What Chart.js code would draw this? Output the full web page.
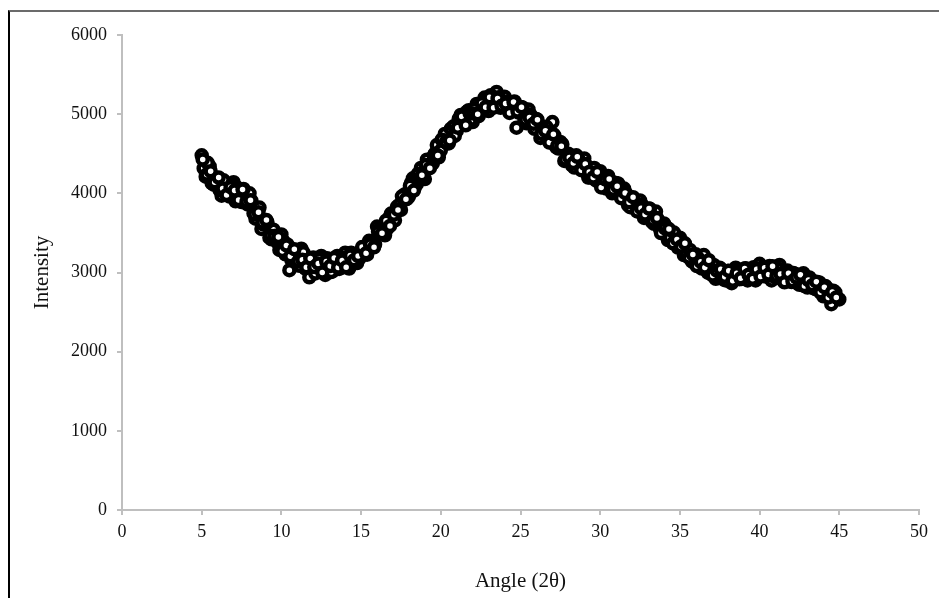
<!DOCTYPE html>
<html lang="en">
<head>
    <meta charset="UTF-8">
    <title>Intensity vs Angle</title>
    <script src="https://cdn.jsdelivr.net/npm/chart.js"></script>
    <style>
        body {
            margin: 0;
            background: #fff;
        }
        .wrap {
            position: relative;
            width: 939px;
            height: 598px;
        }
        .frame {
            position: absolute;
            left: 8px;
            top: 10px;
            right: 0;
            bottom: 0;
            border-left: 2px solid #000;
            border-top: 2px solid #6b6b6b;
            pointer-events: none;
        }
    </style>
</head>
<body>
    <div class="wrap">
        <canvas id="xrd" width="939" height="598"></canvas>
        <div class="frame"></div>
    </div>

    <script>
        // Angle (2 theta) readings, first pass of the scan
        const angles = [
            5.00, 5.25, 5.50, 5.75, 6.00, 6.25, 6.50, 6.75, 7.00, 7.25,
            7.50, 7.75, 8.00, 8.25, 8.50, 8.75, 9.00, 9.25, 9.50, 9.75,
            10.00, 10.25, 10.50, 10.75, 11.00, 11.25, 11.50, 11.75, 12.00, 12.25,
            12.50, 12.75, 13.00, 13.25, 13.50, 13.75, 14.00, 14.25, 14.50, 14.75,
            15.00, 15.25, 15.50, 15.75, 16.00, 16.25, 16.50, 16.75, 17.00, 17.25,
            17.50, 17.75, 18.00, 18.25, 18.50, 18.75, 19.00, 19.25, 19.50, 19.75,
            20.00, 20.25, 20.50, 20.75, 21.00, 21.25, 21.50, 21.75, 22.00, 22.25,
            22.50, 22.75, 23.00, 23.25, 23.50, 23.75, 24.00, 24.25, 24.50, 24.75,
            25.00, 25.25, 25.50, 25.75, 26.00, 26.25, 26.50, 26.75, 27.00, 27.25,
            27.50, 27.75, 28.00, 28.25, 28.50, 28.75, 29.00, 29.25, 29.50, 29.75,
            30.00, 30.25, 30.50, 30.75, 31.00, 31.25, 31.50, 31.75, 32.00, 32.25,
            32.50, 32.75, 33.00, 33.25, 33.50, 33.75, 34.00, 34.25, 34.50, 34.75,
            35.00, 35.25, 35.50, 35.75, 36.00, 36.25, 36.50, 36.75, 37.00, 37.25,
            37.50, 37.75, 38.00, 38.25, 38.50, 38.75, 39.00, 39.25, 39.50, 39.75,
            40.00, 40.25, 40.50, 40.75, 41.00, 41.25, 41.50, 41.75, 42.00, 42.25,
            42.50, 42.75, 43.00, 43.25, 43.50, 43.75, 44.00, 44.25, 44.50, 44.75,
            45.00
        ];

        const intensity = [
            4480, 4210, 4340, 4110, 4190, 3970, 4090, 3960, 4140, 4070,
            3890, 3960, 4000, 3750, 3780, 3550, 3650, 3440, 3540, 3380,
            3480, 3230, 3030, 3270, 3160, 3300, 3050, 2940, 3190, 3055,
            3210, 2970, 3120, 3020, 3210, 3060, 3250, 3050, 3210, 3120,
            3280, 3230, 3400, 3330, 3580, 3490, 3470, 3690, 3660, 3830,
            3790, 3990, 3960, 4190, 4120, 4320, 4180, 4410, 4380, 4610,
            4540, 4750, 4630, 4820, 4790, 4990, 4880, 5050, 4900, 5130,
            5030, 5210, 5040, 5210, 5280, 5080, 5220, 5080, 5140, 4830,
            5090, 4920, 5060, 4870, 4940, 4700, 4830, 4690, 4900, 4580,
            4650, 4410, 4500, 4350, 4480, 4320, 4440, 4200, 4310, 4160,
            4280, 4090, 4220, 4000, 4130, 4000, 4060, 3850, 3930, 3800,
            3910, 3690, 3780, 3640, 3770, 3550, 3620, 3410, 3510, 3370,
            3440, 3220, 3290, 3140, 3230, 3070, 3220, 3000, 3080, 2920,
            3060, 2910, 3020, 2865, 3060, 2915, 3010, 2900, 3050, 2900,
            3110, 2960, 3065, 2900, 3040, 3095, 2890, 3025, 2880, 2980,
            2845, 2990, 2810, 2905, 2790, 2875, 2700, 2800, 2600, 2750,
            2660
        ];

        // second pass, half a step later
        const anglesB = [
            5.125, 5.375, 5.625, 5.875, 6.125, 6.375, 6.625, 6.875, 7.125, 7.375,
            7.625, 7.875, 8.125, 8.375, 8.625, 8.875, 9.125, 9.375, 9.625, 9.875,
            10.125, 10.375, 10.625, 10.875, 11.125, 11.375, 11.625, 11.875, 12.125, 12.375,
            12.625, 12.875, 13.125, 13.375, 13.625, 13.875, 14.125, 14.375, 14.625, 14.875,
            15.125, 15.375, 15.625, 15.875, 16.125, 16.375, 16.625, 16.875, 17.125, 17.375,
            17.625, 17.875, 18.125, 18.375, 18.625, 18.875, 19.125, 19.375, 19.625, 19.875,
            20.125, 20.375, 20.625, 20.875, 21.125, 21.375, 21.625, 21.875, 22.125, 22.375,
            22.625, 22.875, 23.125, 23.375, 23.625, 23.875, 24.125, 24.375, 24.625, 24.875,
            25.125, 25.375, 25.625, 25.875, 26.125, 26.375, 26.625, 26.875, 27.125, 27.375,
            27.625, 27.875, 28.125, 28.375, 28.625, 28.875, 29.125, 29.375, 29.625, 29.875,
            30.125, 30.375, 30.625, 30.875, 31.125, 31.375, 31.625, 31.875, 32.125, 32.375,
            32.625, 32.875, 33.125, 33.375, 33.625, 33.875, 34.125, 34.375, 34.625, 34.875,
            35.125, 35.375, 35.625, 35.875, 36.125, 36.375, 36.625, 36.875, 37.125, 37.375,
            37.625, 37.875, 38.125, 38.375, 38.625, 38.875, 39.125, 39.375, 39.625, 39.875,
            40.125, 40.375, 40.625, 40.875, 41.125, 41.375, 41.625, 41.875, 42.125, 42.375,
            42.625, 42.875, 43.125, 43.375, 43.625, 43.875, 44.125, 44.375, 44.625, 44.875
        ];

        const intensityB = [
            4315, 4385, 4130, 4190, 4040, 4165, 4025, 4105, 3900, 4040,
            4055, 3860, 3905, 3680, 3820, 3605, 3635, 3420, 3465, 3285,
            3395, 3355, 3160, 3240, 3085, 3255, 3080, 3165, 2988, 3173,
            3070, 3180, 3005, 3145, 3045, 3185, 3110, 3250, 3120, 3175,
            3295, 3225, 3370, 3355, 3540, 3580, 3550, 3745, 3660, 3850,
            3945, 3930, 4130, 4080, 4240, 4195, 4425, 4355, 4500, 4455,
            4665, 4635, 4815, 4725, 4940, 4870, 5030, 4925, 5070, 4975,
            5155, 5085, 5240, 5095, 5215, 5120, 5160, 5030, 5160, 5020,
            5085, 4885, 4995, 4815, 4880, 4760, 4840, 4645, 4730, 4565,
            4620, 4430, 4475, 4325, 4435, 4315, 4350, 4200, 4320, 4150,
            4220, 4060, 4155, 4030, 4125, 3975, 4000, 3825, 3895, 3775,
            3855, 3735, 3805, 3615, 3665, 3505, 3575, 3435, 3505, 3315,
            3365, 3245, 3285, 3125, 3185, 3050, 3125, 2990, 3095, 2970,
            3035, 2900, 2993, 2928, 3023, 2918, 3055, 2945, 3065, 2940,
            3060, 2948, 3083, 2950, 3053, 2918, 3013, 2908, 2995, 2863,
            2958, 2845, 2938, 2803, 2878, 2743, 2830, 2700, 2770, 2680
        ];

        // third pass, a quarter step later
        const anglesC = [
            5.0625, 5.3125, 5.5625, 5.8125, 6.0625, 6.3125, 6.5625, 6.8125, 7.0625, 7.3125,
            7.5625, 7.8125, 8.0625, 8.3125, 8.5625, 8.8125, 9.0625, 9.3125, 9.5625, 9.8125,
            10.0625, 10.3125, 10.5625, 10.8125, 11.0625, 11.3125, 11.5625, 11.8125, 12.0625, 12.3125,
            12.5625, 12.8125, 13.0625, 13.3125, 13.5625, 13.8125, 14.0625, 14.3125, 14.5625, 14.8125,
            15.0625, 15.3125, 15.5625, 15.8125, 16.0625, 16.3125, 16.5625, 16.8125, 17.0625, 17.3125,
            17.5625, 17.8125, 18.0625, 18.3125, 18.5625, 18.8125, 19.0625, 19.3125, 19.5625, 19.8125,
            20.0625, 20.3125, 20.5625, 20.8125, 21.0625, 21.3125, 21.5625, 21.8125, 22.0625, 22.3125,
            22.5625, 22.8125, 23.0625, 23.3125, 23.5625, 23.8125, 24.0625, 24.3125, 24.5625, 24.8125,
            25.0625, 25.3125, 25.5625, 25.8125, 26.0625, 26.3125, 26.5625, 26.8125, 27.0625, 27.3125,
            27.5625, 27.8125, 28.0625, 28.3125, 28.5625, 28.8125, 29.0625, 29.3125, 29.5625, 29.8125,
            30.0625, 30.3125, 30.5625, 30.8125, 31.0625, 31.3125, 31.5625, 31.8125, 32.0625, 32.3125,
            32.5625, 32.8125, 33.0625, 33.3125, 33.5625, 33.8125, 34.0625, 34.3125, 34.5625, 34.8125,
            35.0625, 35.3125, 35.5625, 35.8125, 36.0625, 36.3125, 36.5625, 36.8125, 37.0625, 37.3125,
            37.5625, 37.8125, 38.0625, 38.3125, 38.5625, 38.8125, 39.0625, 39.3125, 39.5625, 39.8125,
            40.0625, 40.3125, 40.5625, 40.8125, 41.0625, 41.3125, 41.5625, 41.8125, 42.0625, 42.3125,
            42.5625, 42.8125, 43.0625, 43.3125, 43.5625, 43.8125, 44.0625, 44.3125, 44.5625, 44.8125
        ];

        const intensityC = [
            4428, 4238, 4280, 4140, 4200, 4062, 3978, 4078, 4035, 3915,
            4048, 3895, 3912, 3735, 3760, 3632, 3662, 3465, 3458, 3448,
            3272, 3342, 3205, 3295, 3142, 3162, 3065, 3178, 3069, 3114,
            3000, 3140, 3082, 3182, 3062, 3152, 3065, 3215, 3155, 3208,
            3322, 3242, 3355, 3318, 3515, 3495, 3655, 3588, 3730, 3790,
            3962, 3925, 4095, 4035, 4245, 4228, 4358, 4318, 4475, 4478,
            4678, 4648, 4668, 4848, 4830, 4970, 4860, 5008, 5010, 4998,
            5138, 5088, 5215, 5082, 5198, 5105, 5135, 5015, 5155, 5035,
            5088, 4928, 4958, 4878, 4930, 4750, 4790, 4642, 4745, 4602,
            4595, 4425, 4452, 4382, 4462, 4292, 4370, 4270, 4200, 4270,
            4075, 4175, 4182, 4045, 4088, 3938, 4005, 3888, 3952, 3772,
            3812, 3732, 3808, 3658, 3688, 3498, 3558, 3548, 3368, 3418,
            3328, 3368, 3188, 3228, 3082, 3135, 3062, 3155, 2962, 3025,
            3042, 2945, 3021, 2896, 2991, 2926, 3052, 2972, 2922, 3040,
            2950, 3059, 2974, 3080, 2956, 2981, 2876, 2991, 2888, 2936,
            2971, 2828, 2904, 2839, 2884, 2749, 2815, 2685, 2755, 2685
        ];

        const xTicks = [0, 5, 10, 15, 20, 25, 30, 35, 40, 45, 50];
        const yTicks = [0, 1000, 2000, 3000, 4000, 5000, 6000];

        const points = angles.map((a, i) => ({ x: a, y: intensity[i] }))
            .concat(anglesB.map((a, i) => ({ x: a, y: intensityB[i] })))
            .concat(anglesC.map((a, i) => ({ x: a, y: intensityC[i] })));

        const tickFont = { family: '"Liberation Serif", "Times New Roman", serif', size: 18 };
        const titleFont = { family: '"Liberation Serif", "Times New Roman", serif', size: 21 };
        const axisGrey = '#bfbfbf';

        const ctx = document.getElementById('xrd').getContext('2d');
        new Chart(ctx, {
            type: 'scatter',
            data: {
                datasets: [{
                    label: 'Intensity',
                    data: points,
                    pointStyle: 'circle',
                    pointRadius: 5,
                    pointBorderWidth: 4.5,
                    pointBackgroundColor: '#ffffff',
                    pointBorderColor: '#000000'
                }]
            },
            options: {
                responsive: false,
                animation: false,
                layout: {
                    padding: { left: 0, right: 20, top: 35, bottom: 0 }
                },
                plugins: {
                    legend: { display: false },
                    tooltip: { enabled: false }
                },
                scales: {
                    x: {
                        type: 'linear',
                        min: 0,
                        max: 50,
                        afterBuildTicks: s => { s.ticks = xTicks.map(v => ({ value: v })); },
                        afterFit: s => { s.height = 88; },
                        grid: {
                            drawOnChartArea: false,
                            drawTicks: true,
                            tickLength: 5,
                            color: axisGrey,
                            lineWidth: 2
                        },
                        border: { color: axisGrey, width: 2 },
                        ticks: { color: '#111', font: tickFont, padding: 6, maxRotation: 0, callback: v => String(v) },
                        title: {
                            display: true,
                            text: 'Angle (2θ)',
                            color: '#111',
                            font: titleFont,
                            padding: { top: 0, bottom: 4 }
                        }
                    },
                    y: {
                        min: 0,
                        max: 6000,
                        afterBuildTicks: s => { s.ticks = yTicks.map(v => ({ value: v })); },
                        afterFit: s => { s.width = 122; },
                        grid: {
                            drawOnChartArea: false,
                            drawTicks: true,
                            tickLength: 5,
                            color: axisGrey,
                            lineWidth: 2
                        },
                        border: { color: axisGrey, width: 2 },
                        ticks: { color: '#111', font: tickFont, padding: 10, callback: v => String(v) },
                        title: {
                            display: true,
                            text: 'Intensity',
                            color: '#111',
                            font: titleFont,
                            padding: { top: 30, bottom: 0 }
                        }
                    }
                }
            }
        });
    </script>
</body>
</html>
